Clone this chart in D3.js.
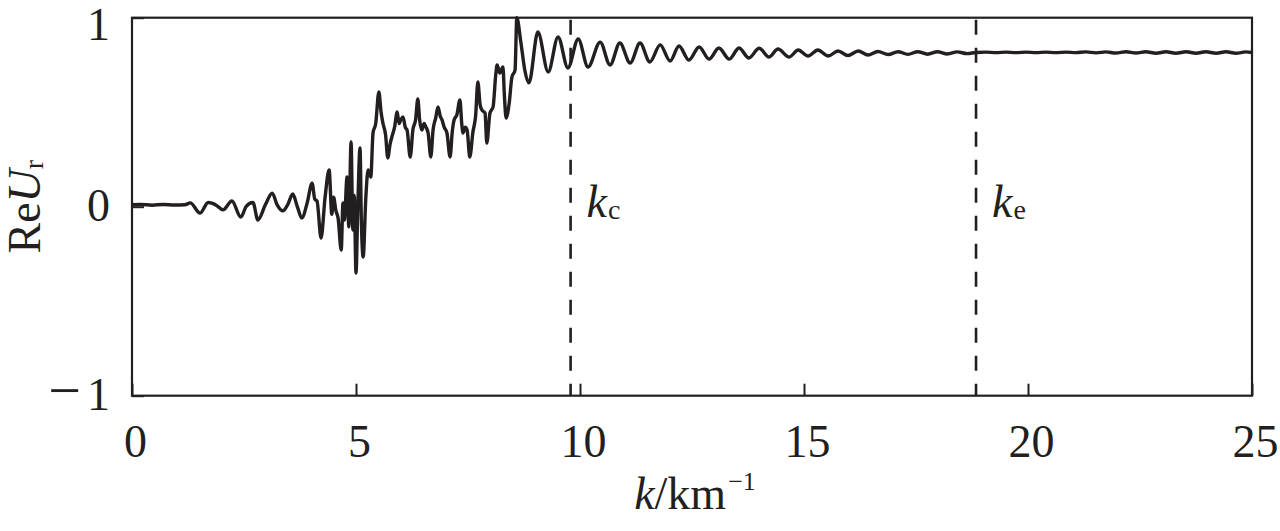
<!DOCTYPE html>
<html>
<head>
<meta charset="utf-8">
<script src="https://cdn.jsdelivr.net/npm/d3@7"></script>
<style>
  html, body { margin: 0; padding: 0; background: #fff; }
  svg { display: block; }
  text { font-family: "Liberation Serif", "DejaVu Serif", serif; fill: #231f20; }
</style>
</head>
<body>
<svg id="chart" width="1280" height="531"></svg>
<script>
// ---- data ----
const xTicks = [0, 5, 10, 15, 20, 25];
const yTicks = [-1, 0, 1];
const markerK = [9.79, 18.84];
const markerSub = ["c", "e"];

// [k, ReU_r] — low-k region (near zero, small ripples)
const segA = [
  [0.00, 0.010],[0.20, 0.012],[0.45, 0.008],[0.70, 0.012],[0.95, 0.009],[1.18, 0.010],
  [1.30, 0.020],[1.52, -0.034],[1.70, 0.022],[1.88, 0.008],[2.03, -0.017],[2.23, 0.030],
  [2.43, -0.055],[2.55, 0.002],[2.70, 0.022],[2.81, -0.070],[2.98, 0.012],[3.13, 0.072],
  [3.24, 0.010],[3.37, -0.022],[3.47, 0.008],[3.59, 0.067],[3.69, 0.000],[3.79, -0.060],
  [3.91, 0.020],[4.02, 0.125]
];
// noisy rising region
const segB = [
  [4.08, 0.040],[4.13, 0.030],[4.22, -0.166],[4.31, 0.050],[4.40, 0.194],[4.46, -0.040],
  [4.50, 0.050],[4.55, -0.020],[4.60, -0.060],[4.67, -0.229],[4.71, 0.020],[4.74, -0.070],
  [4.80, 0.157],[4.84, -0.107],[4.89, 0.342],[4.93, -0.123],[4.96, 0.060],[5.00, -0.351],
  [5.04, 0.000],[5.09, 0.311],[5.12, -0.080],[5.16, -0.266],[5.22, 0.051],[5.27, 0.194],
  [5.33, 0.157],[5.38, 0.390],[5.44, 0.440],[5.51, 0.607],[5.56, 0.500],[5.60, 0.443],
  [5.66, 0.380],[5.71, 0.258],[5.76, 0.330],[5.80, 0.369],[5.86, 0.420],[5.92, 0.501],
  [5.96, 0.440],[6.00, 0.459],[6.05, 0.475],[6.10, 0.420],[6.14, 0.406],[6.21, 0.263],
  [6.27, 0.406],[6.33, 0.460],[6.38, 0.570],[6.42, 0.460],[6.47, 0.406],[6.52, 0.440],
  [6.56, 0.422],[6.61, 0.390],[6.67, 0.263],[6.72, 0.406],[6.78, 0.470],[6.83, 0.528],
  [6.88, 0.480],[6.92, 0.459],[6.97, 0.420],[7.03, 0.390],[7.10, 0.263],[7.15, 0.400],
  [7.19, 0.459],[7.25, 0.485],[7.32, 0.565],[7.36, 0.440],[7.39, 0.390],[7.44, 0.420],
  [7.48, 0.406],[7.54, 0.263],[7.61, 0.395],[7.67, 0.480],[7.72, 0.660],[7.77, 0.540],
  [7.81, 0.512],[7.88, 0.496],[7.92, 0.337],[7.99, 0.496],[8.06, 0.528],[8.12, 0.700],
  [8.15, 0.750],[8.21, 0.707],[8.28, 0.739],[8.31, 0.600],[8.35, 0.469],[8.42, 0.549],
  [8.48, 0.686],[8.55, 0.723],[8.59, 1.000]
];
// damped oscillation up to k_e
const segC = [
  [8.68, 0.870],[8.77, 0.720],[8.86, 0.655],[9.06, 0.924],[9.29, 0.713],[9.51, 0.898],
  [9.73, 0.734],[9.96, 0.887],[10.18, 0.739],[10.45, 0.871],[10.67, 0.750],[10.89, 0.866],
  [11.12, 0.760],[11.34, 0.866],[11.56, 0.766],[11.79, 0.856],[12.01, 0.771],[12.21, 0.850],
  [12.43, 0.776],[12.66, 0.845],[12.88, 0.781],[13.10, 0.840],[13.33, 0.781],[13.55, 0.840],
  [13.77, 0.787],[14.00, 0.838],[14.22, 0.792],[14.42, 0.834],[14.67, 0.792],[14.87, 0.829],
  [15.09, 0.797],[15.31, 0.829],[15.54, 0.797],[15.76, 0.824],[15.98, 0.800],[16.21, 0.824],
  [16.43, 0.803],[16.65, 0.821],[16.88, 0.805],[17.10, 0.820],[17.32, 0.806],[17.54, 0.820],
  [17.76, 0.807],[17.98, 0.820],[18.20, 0.808],[18.42, 0.819],[18.64, 0.810],[18.84, 0.816]
];
// nearly flat tail
const segD = [
  [19.06, 0.818],[19.29, 0.815],[19.51, 0.818],[19.73, 0.815],[19.96, 0.818],[20.18, 0.815],
  [20.40, 0.818],[20.62, 0.815],[20.85, 0.818],[21.07, 0.815],[21.29, 0.819],[21.52, 0.814],
  [21.74, 0.819],[21.96, 0.813],[22.19, 0.820],[22.41, 0.813],[22.63, 0.820],[22.86, 0.812],
  [23.08, 0.820],[23.30, 0.812],[23.53, 0.820],[23.75, 0.812],[23.97, 0.820],[24.20, 0.812],
  [24.42, 0.820],[24.64, 0.812],[24.86, 0.819],[25.00, 0.816]
];

// ---- drawing ----
const m = { left: 132, top: 17.7, right: 1252, bottom: 395.7 };
const ink = "#231f20";
const svg = d3.select("#chart");

const x = d3.scaleLinear().domain([0, 25]).range([m.left, m.right]);
const y = d3.scaleLinear().domain([-1, 1]).range([m.bottom, m.top]);

const series = segA.concat(segB, segC, segD);

// curve
svg.append("path")
  .datum(series)
  .attr("fill", "none")
  .attr("stroke", ink)
  .attr("stroke-width", 3.4)
  .attr("stroke-linejoin", "round")
  .attr("d", d3.line().x(d => x(d[0])).y(d => y(d[1])).curve(d3.curveMonotoneX));

// dashed markers
svg.selectAll("line.marker")
  .data(markerK)
  .join("line")
  .attr("class", "marker")
  .attr("x1", d => x(d)).attr("x2", d => x(d))
  .attr("y1", y(1)).attr("y2", y(-1))
  .attr("stroke", ink)
  .attr("stroke-width", 2.6)
  .attr("stroke-dasharray", "15,13")
  .attr("stroke-dashoffset", -2);

// frame
svg.append("rect")
  .attr("x", m.left).attr("y", m.top)
  .attr("width", m.right - m.left).attr("height", m.bottom - m.top)
  .attr("fill", "none").attr("stroke", ink).attr("stroke-width", 2.2);

// x axis (ticks inward)
const xAxis = d3.axisBottom(x).tickValues(xTicks).tickSizeInner(-12).tickSizeOuter(0).tickFormat(d3.format("d"));
const gx = svg.append("g").attr("transform", `translate(0,${m.bottom})`).call(xAxis);
gx.select(".domain").remove();
gx.selectAll(".tick line").attr("stroke", ink).attr("stroke-width", 2);
gx.selectAll(".tick text")
  .attr("y", 61).attr("dy", null).attr("dx", 3)
  .style("font-size", "46px").style("font-family", "Liberation Serif").attr("fill", ink);

// y axis (tick inward at 0)
const yAxis = d3.axisLeft(y).tickValues(yTicks).tickSizeInner(-12).tickSizeOuter(0).tickFormat(d => d < 0 ? "" : d);
const gy = svg.append("g").attr("transform", `translate(${m.left},0)`).call(yAxis);
gy.select(".domain").remove();
gy.selectAll(".tick line").attr("stroke", ink).attr("stroke-width", 2);
gy.selectAll(".tick text")
  .attr("x", -22).attr("dy", d => d === 1 ? 22 : 14)
  .style("font-size", "46px").style("font-family", "Liberation Serif").attr("fill", ink);
// negative label with long minus
gy.selectAll(".tick").filter(d => d < 0).select("text")
  .call(t => {
    t.append("tspan").text("−").style("font-size", "58px");
    t.append("tspan").text("1").attr("dx", 6);
  });

// marker labels
markerK.forEach((k, i) => {
  const t = svg.append("text")
    .attr("x", x(k) + 16).attr("y", 217)
    .style("font-size", "46px");
  t.append("tspan").text("k").style("font-style", "italic");
  t.append("tspan").text(markerSub[i]).style("font-size", "28px").attr("dx", 1).attr("dy", 2);
});

// x axis title
const xt = svg.append("text")
  .attr("x", (m.left + m.right) / 2 + 3).attr("y", 509)
  .attr("text-anchor", "middle")
  .style("font-size", "46px");
xt.append("tspan").text("k").style("font-style", "italic");
xt.append("tspan").text("/km");
xt.append("tspan").text("−1").style("font-size", "26px").attr("dy", -19).attr("dx", 2);

// y axis title
const yt = svg.append("text")
  .attr("transform", `translate(40,${(m.top + m.bottom) / 2}) rotate(-90)`)
  .attr("text-anchor", "middle")
  .style("font-size", "46px");
yt.append("tspan").text("Re");
yt.append("tspan").text("U").style("font-style", "italic");
yt.append("tspan").text("r").style("font-size", "28px").attr("dy", 3);
</script>
</body>
</html>
